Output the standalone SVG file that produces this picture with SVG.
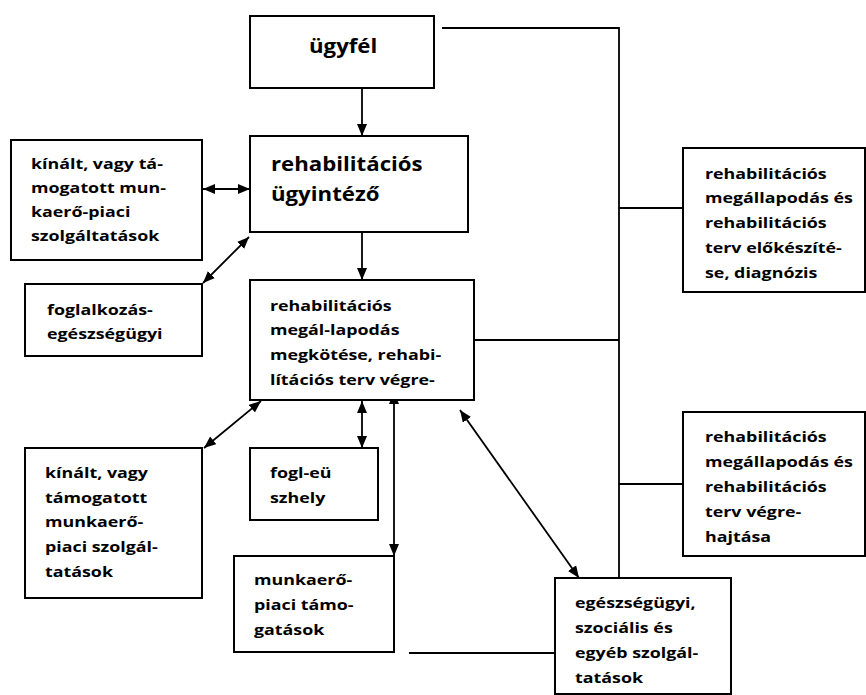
<svg xmlns="http://www.w3.org/2000/svg" width="866" height="695" viewBox="0 0 866 695">
<style>
.box{fill:#fff;stroke:#000;stroke-width:2}
.ln{fill:none;stroke:#000;stroke-width:1.8}
.t{font-family:"Open Sans","Liberation Sans",sans-serif;font-weight:700;font-size:15px;fill:#000}
.big{font-size:19px}
</style>
<defs>
<marker id="ah" viewBox="0 0 12 10" refX="12" refY="5" markerWidth="12" markerHeight="10" markerUnits="userSpaceOnUse" orient="auto-start-reverse">
<path d="M0,0 L12,5 L0,10 Z" fill="#000"/>
</marker>
</defs>
<rect width="866" height="695" fill="#fff"/>
<g id="connectors">
<polyline class="ln" points="442,28 619,28 619,578"/>
<line class="ln" x1="619" y1="208" x2="683" y2="208"/>
<line class="ln" x1="474" y1="340" x2="619" y2="340"/>
<line class="ln" x1="619" y1="484" x2="683" y2="484"/>
<line class="ln" x1="409" y1="653" x2="555" y2="653"/>
<line class="ln" x1="362" y1="88" x2="362" y2="136" marker-end="url(#ah)"/>
<line class="ln" x1="362" y1="232" x2="362" y2="280" marker-end="url(#ah)"/>
<line class="ln" x1="203" y1="189" x2="250" y2="189" marker-start="url(#ah)" marker-end="url(#ah)"/>
<line class="ln" x1="203" y1="283" x2="249" y2="237" marker-start="url(#ah)" marker-end="url(#ah)"/>
<line class="ln" x1="261" y1="401" x2="204" y2="448" marker-start="url(#ah)" marker-end="url(#ah)"/>
<line class="ln" x1="362" y1="401" x2="362" y2="448" marker-start="url(#ah)" marker-end="url(#ah)"/>
<line class="ln" x1="394" y1="392" x2="394" y2="556" marker-start="url(#ah)" marker-end="url(#ah)"/>
<line class="ln" x1="460" y1="410" x2="579" y2="578" marker-start="url(#ah)" marker-end="url(#ah)"/>
</g>
<g id="ugyfel">
<rect class="box" x="250" y="16" width="184" height="72"/>
<g transform="translate(309,0) scale(1.17,1) translate(-309,0)">
<text class="t big" x="309" y="53">ügyfél</text>
</g>
</g>
<g id="ugyintezo">
<rect class="box" x="250" y="136" width="218" height="96"/>
<g transform="translate(271,0) scale(1.17,1) translate(-271,0)">
<text class="t big" x="271" y="171">rehabilitációs</text>
<text class="t big" x="271" y="201">ügyintéző</text>
</g>
</g>
<g id="kinalt1">
<rect class="box" x="11" y="140" width="191" height="120"/>
<g transform="translate(31,0) scale(1.19,1) translate(-31,0)">
<text class="t" x="31" y="169">kínált, vagy tá-</text>
<text class="t" x="31" y="193">mogatott mun-</text>
<text class="t" x="31" y="217">kaerő-piaci</text>
<text class="t" x="31" y="241">szolgáltatások</text>
</g>
</g>
<g id="foglalkozas">
<rect class="box" x="25" y="284" width="177" height="72"/>
<g transform="translate(47,0) scale(1.19,1) translate(-47,0)">
<text class="t" x="47" y="315">foglalkozás-</text>
<text class="t" x="47" y="339">egészségügyi</text>
</g>
</g>
<g id="megallapodas">
<rect class="box" x="250" y="280" width="224" height="120"/>
<g transform="translate(270,0) scale(1.19,1) translate(-270,0)">
<text class="t" x="270" y="311">rehabilitációs</text>
<text class="t" x="270" y="335">megál-lapodás</text>
<text class="t" x="270" y="360">megkötése, rehabi-</text>
<text class="t" x="270" y="385">lítációs terv végre-</text>
</g>
</g>
<g id="fogleu">
<rect class="box" x="250" y="448" width="128" height="72"/>
<g transform="translate(270,0) scale(1.19,1) translate(-270,0)">
<text class="t" x="270" y="478">fogl-eü</text>
<text class="t" x="270" y="503">szhely</text>
</g>
</g>
<g id="kinalt2">
<rect class="box" x="25" y="448" width="177" height="150"/>
<g transform="translate(45,0) scale(1.19,1) translate(-45,0)">
<text class="t" x="45" y="478">kínált, vagy</text>
<text class="t" x="45" y="503">támogatott</text>
<text class="t" x="45" y="527">munkaerő-</text>
<text class="t" x="45" y="552">piaci szolgál-</text>
<text class="t" x="45" y="577">tatások</text>
</g>
</g>
<g id="munkaero">
<rect class="box" x="234" y="556" width="160" height="96"/>
<g transform="translate(254,0) scale(1.19,1) translate(-254,0)">
<text class="t" x="254" y="585">munkaerő-</text>
<text class="t" x="254" y="610">piaci támo-</text>
<text class="t" x="254" y="635">gatások</text>
</g>
</g>
<g id="egeszsegugyi">
<rect class="box" x="555" y="578" width="176" height="116"/>
<g transform="translate(575,0) scale(1.19,1) translate(-575,0)">
<text class="t" x="575" y="608">egészségügyi,</text>
<text class="t" x="575" y="633">szociális és</text>
<text class="t" x="575" y="658">egyéb szolgál-</text>
<text class="t" x="575" y="683">tatások</text>
</g>
</g>
<g id="elokeszites">
<rect class="box" x="683" y="148" width="182" height="144"/>
<g transform="translate(705,0) scale(1.19,1) translate(-705,0)">
<text class="t" x="705" y="179">rehabilitációs</text>
<text class="t" x="705" y="203">megállapodás és</text>
<text class="t" x="705" y="228">rehabilitációs</text>
<text class="t" x="705" y="253">terv előkészíté-</text>
<text class="t" x="705" y="278">se, diagnózis</text>
</g>
</g>
<g id="vegrehajtas">
<rect class="box" x="683" y="412" width="182" height="144"/>
<g transform="translate(705,0) scale(1.19,1) translate(-705,0)">
<text class="t" x="705" y="442">rehabilitációs</text>
<text class="t" x="705" y="467">megállapodás és</text>
<text class="t" x="705" y="492">rehabilitációs</text>
<text class="t" x="705" y="517">terv végre-</text>
<text class="t" x="705" y="542">hajtása</text>
</g>
</g>
</svg>
